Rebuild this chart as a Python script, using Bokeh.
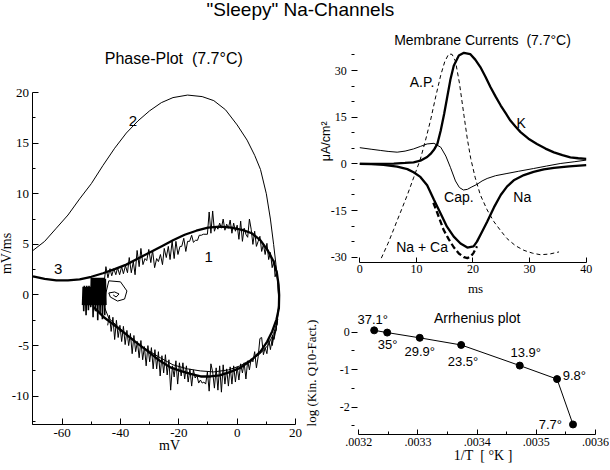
from bokeh.plotting import figure
from bokeh.layouts import column, row
from bokeh.models import Div, FixedTicker, CustomJSTickFormatter
from bokeh.core.properties import value
from bokeh.embed import file_html
from bokeh.resources import INLINE

# ---------------- data ----------------
main_title = '"Sleepy" Na-Channels'

# Phase plot
phase_xticks = [-60, -40, -20, 0, 20]
phase_xminor = [-70, -50, -30, -10, 10]
phase_yticks = [-10, -5, 0, 5, 10, 15, 20]
phase_yminor = [-12.5, -7.5, -2.5, 2.5, 7.5, 12.5, 17.5]
phase_xlim = (-70, 20)
phase_ylim = (-12.8, 20)

# trace 3 (thick, smooth limit cycle)
c3_x = [-70, -66, -62, -58, -54, -50, -46, -42, -38, -34, -30, -26, -22, -18, -14, -10, -6, -2,
        2, 5, 8, 10.5, 12.5, 13.6, 14.2, 14.4, 14.3, 13.5, 12, 10.3, 8, 4.6, 1, -2.3, -6, -9.2,
        -12.5, -16, -19.5, -22.9, -26.5, -30.9, -35, -38.9, -42.5, -45.7, -49.2]
c3_y = [1.85, 1.6, 1.45, 1.45, 1.55, 1.8, 2.15, 2.55, 3.0, 3.6, 4.2, 4.8, 5.4, 5.95, 6.35, 6.65, 6.75, 6.65,
        6.4, 6.1, 5.4, 4.4, 3.3, 2.2, 1.0, 0.0, -1.3, -2.4, -3.6, -4.6, -5.6, -6.5, -7.2, -7.6, -7.95, -8.05,
        -8.05, -7.8, -7.5, -7.15, -6.5, -5.5, -4.6, -3.7, -2.9, -2.2, -1.2]

# trace 2 (thin, big excursion, ending in a small spiral)
c2_x = [-70, -66, -62, -58, -54, -50, -46, -42, -38, -34, -30, -26, -22, -17, -12, -8, -4, 0,
        3.4, 6, 8, 10, 11.4, 12.5, 13.3, 14, 14.3, 13.8, 12.5, 10.5, 7.5, 4.6, 1, -3, -8, -12.6,
        -17, -22, -27, -32, -37, -41, -44, -45.5, -45, -44, -40, -37.8, -38.6, -41, -43.5, -44,
        -42, -40.5, -41.5, -42.5]
c2_y = [4.4, 5.3, 6.6, 7.9, 9.5, 11.0, 12.8, 14.5, 16.0, 17.2, 18.2, 19.0, 19.5, 19.75, 19.6, 19.2, 18.3, 16.8,
        15.3, 13.8, 12.4, 10.0, 7.5, 5.0, 3.0, 1.0, -1.0, -2.5, -3.8, -5.0, -5.9, -6.4, -7.0, -7.4, -7.6, -7.5,
        -7.3, -6.9, -6.1, -5.2, -4.1, -3.1, -2.3, -1.2, 0.2, 1.4, 1.3, 0.4, -0.4, -0.6, -0.2, 0.2,
        0.3, 0.1, -0.2, 0.0]

# trace 1 (thin, noisy cycle)
c1_x = [-45.5, -45, -44.3, -43.6, -43.0, -42.3, -41.6, -41.0, -40.3, -39.6, -39.0, -38.3, -37.6, -37.0,
        -36.3, -35.6, -35.0, -34.3, -33.6, -33.0, -32.3, -31.6, -31.0, -30.3, -29.6, -29.0, -28.3, -27.6,
        -27.0, -26.3, -25.6, -25.0, -24.3, -23.6, -23.0, -22.3, -21.6, -21.0, -20.3, -19.6, -19.0, -18.3,
        -17.6, -17.0, -16.3, -15.6, -15.0, -14.3, -13.6, -13.0, -12.3, -11.6, -10.2, -9.6, -9.0, -8.4,
        -7.8, -7.2, -6.6, -6.0, -5.4, -4.8, -4.2, -3.6, -3.0, -2.4, -1.8, -1.2, -0.6, 0.0, 0.6, 1.2, 1.8,
        2.4, 3.0, 3.6, 4.2, 4.8, 5.4, 6.0, 6.6, 7.2, 7.8, 8.4, 9.0, 9.6, 10.2, 10.8, 11.4, 12.0, 12.6,
        13.0, 13.6, 14.0, 14.2, 14.2,
        14.0, 13.6, 13.9, 13.2, 13.5, 12.6, 12.9, 12.0, 12.2, 11.4, 10.8, 10.2, 9.6, 9.0, 8.4, 7.8, 7.2,
        6.6, 6.0, 5.4, 4.8, 4.2, 3.6, 3.0, 2.4, 1.8, 1.2, 0.6, 0.0, -0.6, -1.2, -1.8, -2.4, -3.0, -3.6,
        -4.2, -4.8, -5.4, -6.0, -6.6, -7.2, -7.8, -8.4, -9.0, -9.6, -10.2, -10.8, -11.4, -12.0, -12.6,
        -13.2, -13.8, -14.4, -15.0, -15.6, -16.2, -16.8, -17.4, -18.0, -18.6, -19.2, -19.8, -20.4,
        -21.0, -21.6, -22.2, -22.8, -23.4, -24.0, -24.6, -25.2, -25.8, -26.4, -27.0, -27.6, -28.2,
        -28.8, -29.4, -30.0, -30.6, -31.2, -31.8, -32.4, -33.0, -33.6, -34.2, -34.8, -35.4, -36.0,
        -36.6, -37.2, -37.8, -38.4, -39.0, -39.6, -40.2, -40.8, -41.4, -42.0, -42.6, -43.2, -43.8, -44.4]
c1_y = [1.5, 2.8, 1.7, 2.6, 1.9, 2.6, 2.0, 2.7, 2.0, 2.8, 2.1, 2.9, 2.2, 3.7,
        2.2, 3.3, 2.0, 4.4, 2.8, 4.6, 3.0, 3.6, 3.4, 4.5, 3.2, 4.4, 2.7, 3.6,
        3.3, 4.0, 3.0, 4.6, 3.7, 4.8, 3.5, 5.3, 3.6, 5.3, 4.0, 4.8, 4.8, 5.6,
        4.3, 5.3, 5.3, 5.9, 5.2, 5.4, 5.4, 5.9, 5.9, 6.0, 6.0, 8.2, 6.1, 8.3,
        6.3, 6.8, 6.5, 7.1, 6.6, 7.5, 6.4, 7.0, 6.6, 7.4, 6.1, 7.1, 6.3, 6.9, 5.5, 7.3, 5.3,
        6.6, 6.0, 5.7, 7.5, 6.5, 5.0, 6.3, 4.8, 5.3, 5.8, 4.3, 5.0, 4.0, 5.1, 3.5, 4.2, 2.7, 3.4,
        1.8, 2.4, 1.0, 0.0, -1.0,
        -1.5, -3.0, -2.4, -3.6, -3.2, -4.4, -3.6, -5.0, -4.0, -5.4, -4.3, -5.8, -5.2, -5.9, -4.2, -4.3, -6.1,
        -7.2, -5.6, -6.6, -6.3, -7.4, -6.5, -8.3, -6.7, -7.7, -6.8, -8.4, -7.1, -8.6, -7.0, -8.8, -7.1, -9.0, -7.3,
        -8.8, -6.9, -9.6, -7.0, -9.4, -7.2, -9.2, -7.6, -6.8, -9.5, -7.6, -8.8, -8.6, -8.7, -8.4,
        -8.7, -7.9, -8.2, -7.4, -9.0, -7.3, -8.6, -7.0, -8.3, -6.7, -8.0, -6.7, -8.8,
        -6.5, -8.1, -7.0, -9.4, -6.4, -7.9, -5.9, -7.7, -6.0, -8.0, -5.6, -7.3, -5.4,
        -7.3, -5.2, -6.6, -5.0, -7.0, -5.1, -6.4, -4.5, -6.2, -4.6, -5.6, -4.0, -5.8,
        -3.8, -5.0, -3.5, -4.9, -3.1, -4.6, -3.0, -4.2, -2.5, -4.4, -2.2, -3.6, -2.0, -3.0]

# dense noise block near rest potential
blk_x = [-53.0, -52.8, -52.6, -52.4, -52.2, -52.0, -51.8, -51.6, -51.4, -51.2, -51.0, -50.8, -50.6,
         -50.4, -50.2, -50.0, -49.8, -49.6, -49.4, -49.2, -49.0, -48.8, -48.6, -48.4, -48.2, -48.0,
         -47.8, -47.6, -47.4, -47.2, -47.0, -46.8, -46.6, -46.4, -46.2, -46.0, -45.8, -45.6, -45.4,
         -45.2, -45.0]
blk_y = [-1.0, 0.8, -1.6, 0.9, -1.0, 0.8, -2.0, 0.9, -1.0, 0.8, -1.5, 0.9, -1.0,
         0.8, -1.2, 1.7, -1.0, 1.7, -2.2, 1.7, -1.0, 1.7, -1.6, 1.7, -1.0, 1.7,
         -2.5, 1.7, -1.0, 1.7, -1.8, 1.7, -1.0, 1.7, -2.4, 1.7, -1.0, 1.7, -2.0,
         1.6, -1.0]

phase_lbl = ["2", "1", "3"]
phase_lbl_x = [-35.7, -9.8, -61.4]
phase_lbl_y = [17.2, 3.8, 2.6]

# Membrane currents
mc_xticks = [0, 10, 20, 30, 40]
mc_yticks = [-30, -15, 0, 15, 30]
mc_yminor = [-25, -20, -10, -5, 5, 10, 20, 25, 35]
mc_xlim = (0, 40)
mc_ylim = (-31.8, 36.7)

k_t = [0, 3, 6, 8, 9.5, 10.7, 11.9, 12.5, 13.1, 13.7, 14.3, 14.9, 15.4, 16, 16.6, 17.5, 18.4, 19.5,
       20.4, 21.3, 22.2, 23.1, 24, 24.9, 25.8, 26.6, 27.5, 28.4, 29.8, 31.3, 32.8, 34.3, 35.8, 37.2,
       38.6, 40]
k_v = [0, 0, 0.1, 0.3, 0.5, 1.0, 2.2, 3.2, 4.5, 6.4, 10.7, 16, 21, 27, 31.5, 34.8, 35.7, 35.3,
       33.5, 31.1, 28, 24.6, 21.6, 18.75, 16.2, 13.9, 12, 10.2, 8.1, 6.4, 4.9, 3.7, 2.8, 2.1,
       1.8, 1.6]

na_t = [0, 2, 4.2, 6.6, 8.4, 9.5, 10.7, 11.9, 13.1, 14.3, 15.4, 16.6, 17.8, 19, 20.1, 20.7, 21.6,
        22.5, 23.7, 24.9, 26, 27.2, 29, 30.7, 32.5, 34.3, 37, 40]
na_v = [0, -0.1, -0.3, -0.9, -1.7, -2.7, -4.2, -6.9, -11.5, -16, -20.2, -23.4, -25.6, -26.9, -26.5, -25,
        -21.8, -18.6, -14, -10, -7.3, -5.3, -3.6, -2.6, -1.8, -1.3, -0.8, -0.4]

naca_t = [13.0, 13.7, 14.8, 15.7, 16.6, 17.5, 18.4, 19.0, 19.6, 20.1, 20.7]
naca_v = [-12.5, -15.8, -21.2, -24.2, -26.8, -28.8, -30.0, -30.3, -29.8, -28.6, -26.5]

cap_t = [0, 2, 3.7, 5, 6.6, 8, 9.5, 10.7, 11.9, 13.1, 14.3, 15.2, 16, 16.9, 17.6, 18.3, 19, 19.8,
         20.7, 21.6, 22.5, 24, 26, 28, 30.7, 33, 35.4, 38, 40]
cap_v = [5.2, 4.7, 4.3, 4.0, 3.75, 4.1, 4.8, 5.6, 6.4, 6.6, 5.35, 2.5, -1.1, -5.5, -7.6, -8.4, -8.2, -7.4,
         -6.6, -5.5, -4.7, -3.8, -3.1, -2.4, -1.5, -0.7, 0.1, 0.7, 1.2]

ap_t = [3.8, 5, 6, 6.6, 7.2, 8.4, 9.5, 10.7, 11.6, 12.5, 13.4, 14.3, 15, 15.7, 16.3, 16.9, 17.6, 18.4,
        19, 19.6, 20.4, 21.3, 22.5, 23.7, 24.9, 26, 27.5, 29, 30.5, 31.9, 33.5, 35.2]
ap_v = [-30.3, -25.5, -21, -18.2, -15.5, -10, -4.5, 1.5, 7.5, 14, 21.5, 28.5, 32.8, 35.3, 35.2, 33, 26,
        15.6, 8, 1.7, -4.5, -10, -14.8, -18.6, -21.5, -24, -26.3, -27.8, -28.7, -29.2, -29, -28.3]

mc_lbl = ["A.P.", "K", "Cap.", "Na", "Na + Ca"]
mc_lbl_x = [11.0, 28.5, 17.5, 28.7, 11.0]
mc_lbl_y = [26.4, 13.2, -10.6, -10.6, -26.8]

# Arrhenius plot
arr_xticks = [0.0032, 0.0033, 0.0034, 0.0035, 0.0036]
arr_xminor = [0.00325, 0.00335, 0.00345, 0.00355]
arr_yticks = [-2, -1, 0]
arr_yminor = [-2.5, -1.5, -0.5]
arr_xlim = (0.0032, 0.0036)
arr_ylim = (-2.74, 0.3)
arr_temp = ["37.1°", "35°", "29.9°", "23.5°", "13.9°", "9.8°", "7.7°"]
arr_x = [0.003226, 0.003248, 0.003303, 0.003373, 0.003472, 0.003535, 0.003562]
arr_y = [0.05, -0.01, -0.15, -0.34, -0.89, -1.25, -2.46]
arr_dx = [-1.5, 0.5, 0, 1.8, 6, 17.3, -22.7]
arr_dy = [-11, 11.7, 13.7, 16.2, -13.5, -3.7, 0]

NB = "\u00a0"
# titles and axis titles: (text, x, y, font size, serif?, rotated?)
phase_texts = [("Phase-Plot" + NB + NB + "(7.7°C)", -21.73, 23.41, "16px", False, False),
               ("mV", -23.2, -14.85, "14px", True, False),
               ("mV/ms", -79.0, 4.10, "14px", True, True)]
mc_texts = [("Membrane Currents" + NB + NB + "(7.7°C)", 21.68, 39.8, "14px", False, False),
            ("ms", 20.44, -40.06, "13px", True, False),
            ("μA/cm²", -6.0, 7.25, "12.5px", False, True)]
arr_texts = [("Arrhenius plot", 0.0034, 0.392, "14px", False, False),
             ("1/T" + NB + NB + "[ °K ]", 0.00341, -3.288, "14px", True, False),
             ("log (Kin. Q10-Fact.)", 0.0031206, -1.088, "13px", True, True)]

SANS = "'Liberation Sans', Arial, sans-serif"
SERIF = "'Liberation Serif', 'Times New Roman', serif"
plain_fmt = "return String(tick)"


def base_fig(w, h, xr, yr):
    p = figure(width=w, height=h, x_range=xr, y_range=yr, output_backend="svg",
               toolbar_location=None, min_border=0)
    p.outline_line_color = None
    p.xgrid.visible = False
    p.ygrid.visible = False
    p.background_fill_color = "white"
    p.border_fill_color = "white"
    for ax in (p.xaxis[0], p.yaxis[0]):
        ax.major_label_text_font = SERIF
        ax.major_label_text_color = "black"
        ax.axis_line_color = "black"
        ax.major_tick_line_color = "black"
        ax.minor_tick_line_color = "black"
        ax.formatter = CustomJSTickFormatter(code=plain_fmt)
    return p


def add_texts(p, items):
    for txt, x, y, size, serif, rot in items:
        p.text(x=[x], y=[y], text=[txt], text_font=value(SERIF if serif else SANS),
               text_font_size=size, text_align="center", text_baseline="middle",
               angle=1.5708 if rot else 0.0, text_color="black")


# ---------------- phase plot ----------------
# canvas 305 x 447 px; the axes sit inside it at fixed data locations
p1 = base_fig(305, 447, (-81.14, 23.43), (-17.24, 26.92))
p1.xaxis.ticker = FixedTicker(ticks=phase_xticks, minor_ticks=phase_xminor)
p1.yaxis.ticker = FixedTicker(ticks=phase_yticks, minor_ticks=phase_yminor)
p1.xaxis.fixed_location = phase_ylim[0]
p1.xaxis.bounds = phase_xlim
p1.yaxis.fixed_location = phase_xlim[0]
p1.yaxis.bounds = phase_ylim
for ax in (p1.xaxis[0], p1.yaxis[0]):
    ax.major_tick_in = 6
    ax.major_tick_out = 0
    ax.minor_tick_in = 3
    ax.minor_tick_out = 0
    ax.major_label_text_font_size = "13px"
    ax.major_label_standoff = 4

p1.line(c2_x, c2_y, line_color="black", line_width=1)
p1.line(c1_x, c1_y, line_color="black", line_width=1)
p1.line(blk_x, blk_y, line_color="black", line_width=1.6)
p1.line(c3_x, c3_y, line_color="black", line_width=2.3)
p1.text(x=phase_lbl_x, y=phase_lbl_y, text=phase_lbl, text_font=value(SANS),
        text_font_size="15px", text_align="center", text_baseline="middle", text_color="black")
add_texts(p1, phase_texts)

# ---------------- membrane currents ----------------
p2 = base_fig(304, 273, (-9.594, 44.117), (-42.31, 45.43))
p2.xaxis.ticker = FixedTicker(ticks=mc_xticks)
p2.yaxis.ticker = FixedTicker(ticks=mc_yticks, minor_ticks=mc_yminor)
p2.xaxis.fixed_location = mc_ylim[0]
p2.xaxis.bounds = mc_xlim
p2.yaxis.fixed_location = mc_xlim[0]
p2.yaxis.bounds = mc_ylim
xa = p2.xaxis[0]
xa.major_tick_in = 5
xa.major_tick_out = 0
xa.minor_tick_in = 0
xa.minor_tick_out = 0
xa.major_label_standoff = 2
xa.major_label_text_font_size = "12px"
ya = p2.yaxis[0]
ya.axis_line_color = None
ya.major_tick_out = 8
ya.major_tick_in = -2
ya.minor_tick_out = 8
ya.minor_tick_in = -5
ya.major_label_standoff = 5
ya.major_label_text_font_size = "12px"

p2.line(ap_t, ap_v, line_color="black", line_width=1, line_dash="4 3")
p2.line(cap_t, cap_v, line_color="black", line_width=1)
p2.line(k_t, k_v, line_color="black", line_width=2.3)
p2.line(na_t, na_v, line_color="black", line_width=2.3)
p2.line(naca_t, naca_v, line_color="black", line_width=2.3, line_dash="6 3")
p2.text(x=mc_lbl_x, y=mc_lbl_y, text=mc_lbl, text_font=value(SANS), text_font_size="14px",
        text_align="center", text_baseline="middle", text_color="black")
add_texts(p2, mc_texts)

# ---------------- Arrhenius plot ----------------
p3 = base_fig(304, 174, (0.00310993, 0.00362366), (-3.661, 0.9787))
p3.xaxis.ticker = FixedTicker(ticks=arr_xticks, minor_ticks=arr_xminor)
p3.yaxis.ticker = FixedTicker(ticks=arr_yticks, minor_ticks=arr_yminor)
p3.xaxis.formatter = CustomJSTickFormatter(code="return tick.toFixed(4).replace(/^0/, '')")
p3.xaxis.fixed_location = arr_ylim[0]
p3.xaxis.bounds = arr_xlim
p3.yaxis.fixed_location = arr_xlim[0]
p3.yaxis.bounds = arr_ylim
xa = p3.xaxis[0]
xa.major_tick_in = 5
xa.major_tick_out = 0
xa.minor_tick_in = 3
xa.minor_tick_out = 0
xa.major_label_standoff = 3
xa.major_label_text_font_size = "12px"
ya = p3.yaxis[0]
ya.axis_line_color = None
ya.major_tick_out = 7
ya.major_tick_in = -1
ya.minor_tick_out = 7
ya.minor_tick_in = -4
ya.major_label_standoff = 2
ya.major_label_text_font_size = "12px"

p3.line(arr_x, arr_y, line_color="black", line_width=1)
p3.scatter(arr_x, arr_y, size=7, marker="circle", fill_color="black", line_color="black")
p3.text(x=arr_x, y=arr_y, text=arr_temp, x_offset=arr_dx, y_offset=arr_dy,
        text_font=value(SANS), text_font_size="13px", text_align="center",
        text_baseline="middle", text_color="black")
add_texts(p3, arr_texts)

title = Div(text='<div style="position:relative;left:-4px;width:609px;'
                 'text-align:center;font-family:\'Liberation Sans\',Arial,sans-serif;'
                 'font-size:19px;line-height:19px;color:black;">' + main_title.replace('"', '&quot;') + '</div>',
            width=609, height=22, margin=(0, 0, 0, 0))

layout = column(title, row(p1, column(p2, p3, spacing=0), spacing=0), spacing=0)

open("out.html", "w").write(file_html(layout, INLINE))
